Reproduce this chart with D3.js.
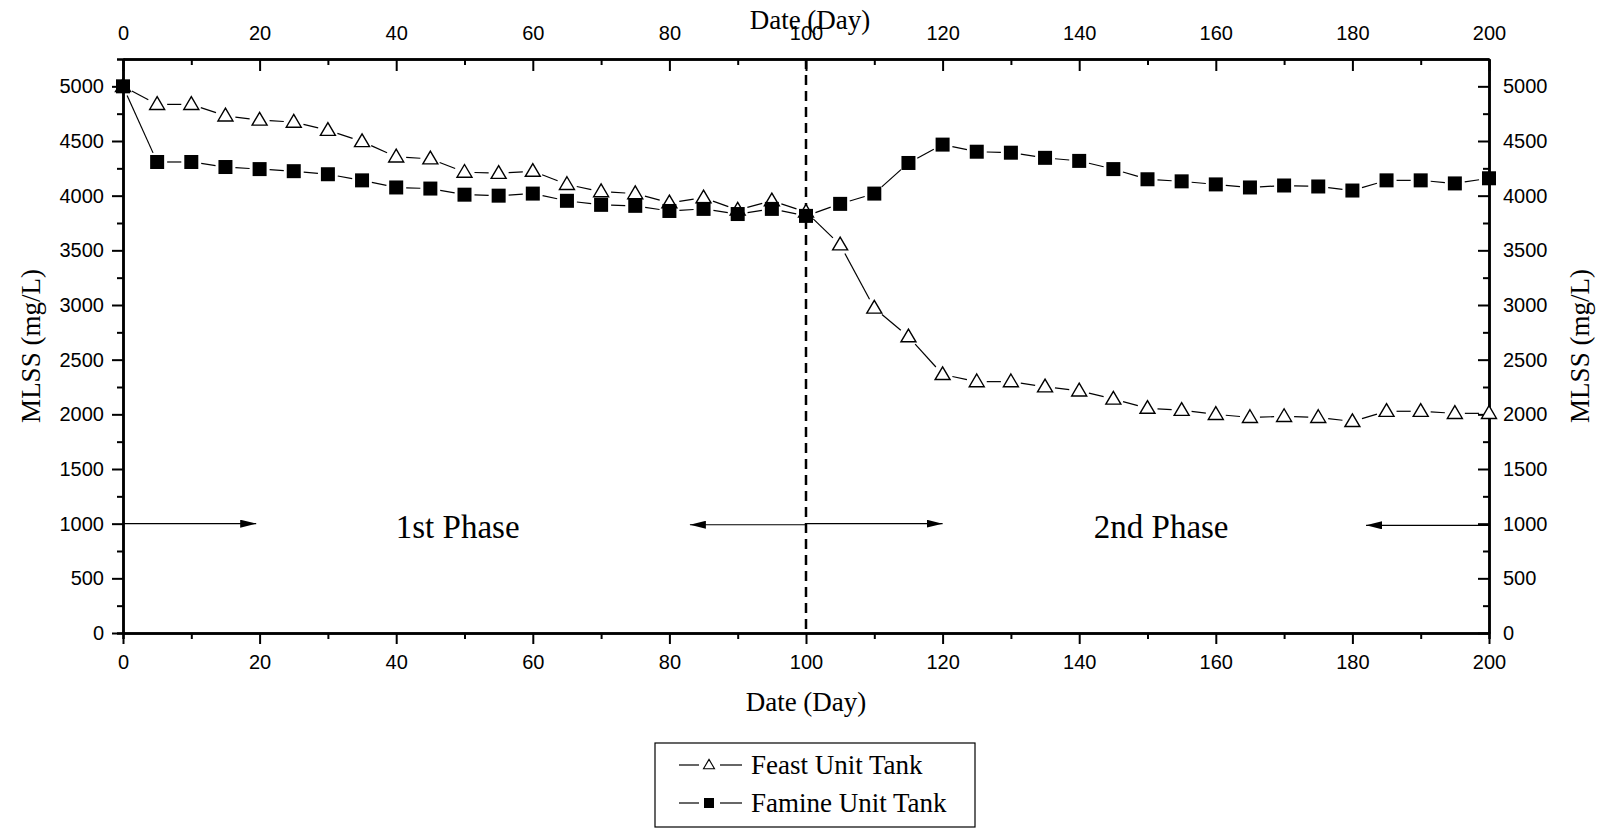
<!DOCTYPE html>
<html>
<head>
<meta charset="utf-8">
<script src="https://cdn.jsdelivr.net/npm/d3@7"></script>
<style>
  body { margin: 0; background: #fff; }
  .tick text { font-family: "Liberation Sans", Arial, sans-serif; font-size: 20px; fill: #000; }
  .axis path, .axis line { stroke: #000; }
</style>
</head>
<body>
<script>
// days sampled every 5
var days = [0,5,10,15,20,25,30,35,40,45,50,55,60,65,70,75,80,85,90,95,100,
            105,110,115,120,125,130,135,140,145,150,155,160,165,170,175,180,185,190,195,200];

// MLSS (mg/L)
var feast = [5000,4835,4835,4730,4692,4673,4598,4495,4355,4337,4215,4205,4224,4103,4037,4019,3935,3981,3869,3953,3851,
             3551,2972,2710,2365,2299,2299,2252,2215,2140,2056,2037,2000,1972,1981,1972,1935,2028,2028,2009,2009];
var famine = [5000,4308,4308,4262,4243,4224,4196,4140,4075,4065,4009,4000,4019,3953,3916,3907,3860,3879,3832,3879,3815,
              3925,4019,4299,4467,4402,4393,4346,4318,4243,4150,4131,4103,4075,4093,4084,4047,4140,4140,4112,4159];

var xMajor = [0,20,40,60,80,100,120,140,160,180,200];
var xMinor = [10,30,50,70,90,110,130,150,170,190];
var yMajor = [0,500,1000,1500,2000,2500,3000,3500,4000,4500,5000];
var yMinor = [250,750,1250,1750,2250,2750,3250,3750,4250,4750];

var seriesNames = ["Feast Unit Tank", "Famine Unit Tank"];

// phase annotations
var phaseLabels = ["1st Phase", "2nd Phase"];
var phaseLabelDay = [49, 152];
var phaseDivider = 100;
var arrowFrom = [0, 100, 100, 200];
var arrowTo = [19.5, 83, 120, 182];
var arrowLevel = [1000, 990, 1000, 985];

var W = 1604, H = 829;
var m = {left: 123, right: 115, top: 59, bottom: 196};

var svg = d3.select("body").append("svg")
            .attr("width", W)
            .attr("height", H);

var defs = svg.append("defs");
defs.append("marker")
    .attr("id", "head")
    .attr("viewBox", "0 0 16 8")
    .attr("refX", 16).attr("refY", 4)
    .attr("markerWidth", 16).attr("markerHeight", 8)
    .attr("markerUnits", "userSpaceOnUse")
    .attr("orient", "auto")
  .append("path")
    .attr("d", "M0,0L16,4L0,8Z")
    .attr("fill", "#000");

var x = d3.scaleLinear().domain([0, 200]).range([m.left, W - m.right]);
var y = d3.scaleLinear().domain([0, 5250]).range([H - m.bottom, m.top]);
var fmt = d3.format("d");

// ---- axes ----
var styleAxis = function(g, w){
  g.attr("class", "axis");
  g.select(".domain").attr("stroke-width", 2.5);
  g.selectAll(".tick line").attr("stroke-width", 2);
}

svg.append("g").attr("transform", "translate(0," + y(0) + ")")
   .call(d3.axisBottom(x).tickValues(xMajor).tickFormat(fmt).tickSizeInner(11).tickSizeOuter(0).tickPadding(11))
   .call(styleAxis);
svg.append("g").attr("transform", "translate(0," + y(0) + ")")
   .call(d3.axisBottom(x).tickValues(xMinor).tickSize(6).tickFormat(""))
   .call(styleAxis);

svg.append("g").attr("transform", "translate(0," + y(5250) + ")")
   .call(d3.axisTop(x).tickValues(xMajor).tickFormat(fmt).tickSizeInner(-12).tickSizeOuter(0).tickPadding(19))
   .call(styleAxis);
svg.append("g").attr("transform", "translate(0," + y(5250) + ")")
   .call(d3.axisTop(x).tickValues(xMinor).tickSizeInner(-6).tickSizeOuter(0).tickFormat(""))
   .call(styleAxis);

svg.append("g").attr("transform", "translate(" + x(0) + ",0)")
   .call(d3.axisLeft(y).tickValues(yMajor).tickFormat(fmt).tickSizeInner(11).tickSizeOuter(0).tickPadding(8))
   .call(styleAxis);
svg.append("g").attr("transform", "translate(" + x(0) + ",0)")
   .call(d3.axisLeft(y).tickValues(yMinor).tickSize(6).tickFormat(""))
   .call(styleAxis);

svg.append("g").attr("transform", "translate(" + x(200) + ",0)")
   .call(d3.axisRight(y).tickValues(yMajor).tickFormat(fmt).tickSizeInner(-11).tickSizeOuter(0).tickPadding(14))
   .call(styleAxis);
svg.append("g").attr("transform", "translate(" + x(200) + ",0)")
   .call(d3.axisRight(y).tickValues(yMinor).tickSizeInner(-6).tickSizeOuter(0).tickFormat(""))
   .call(styleAxis);

// axis titles (serif)
var serif = '"Liberation Serif", "Times New Roman", serif';
var place_text = function(txt, px, py, size, rot){
  var t = svg.append("text")
     .attr("x", px).attr("y", py)
     .attr("text-anchor", "middle")
     .attr("dominant-baseline", "central")
     .style("font-family", serif)
     .style("font-size", size + "px")
     .text(txt);
  if (rot) t.attr("transform", "rotate(" + rot + "," + px + "," + py + ")");
  return t;
}
place_text("Date (Day)", (x(0) + x(200)) / 2, 702, 27, 0);
place_text("Date (Day)", 810, 20, 27, 0);
place_text("MLSS (mg/L)", 31, y(2625), 27, -90);
place_text("MLSS (mg/L)", 1580, y(2625), 27, -90);

// divider between phases
svg.append("line")
   .attr("x1", x(phaseDivider)).attr("x2", x(phaseDivider))
   .attr("y1", y(5250)).attr("y2", y(0))
   .attr("stroke", "#000").attr("stroke-width", 2.5)
   .attr("stroke-dasharray", "10,6");

// arrows + phase labels
for (var i = 0; i < arrowFrom.length; i++){
  svg.append("line")
     .attr("x1", x(arrowFrom[i])).attr("y1", y(arrowLevel[i]))
     .attr("x2", x(arrowTo[i])).attr("y2", y(arrowLevel[i]))
     .attr("stroke", "#000").attr("stroke-width", 1.2)
     .attr("marker-end", "url(#head)");
}
for (var i = 0; i < phaseLabels.length; i++){
  place_text(phaseLabels[i], x(phaseLabelDay[i]), y(1000) + 3, 33, 0);
}

// ---- series ----
// Origin style: connecting lines stop short of each marker
var gap = 10;
var draw_gapped_line = function(vals){
  var g = svg.append("g");
  for (var i = 1; i < days.length; i++){
    var x0 = x(days[i-1]), y0 = y(vals[i-1]);
    var x1 = x(days[i]), y1 = y(vals[i]);
    var dx = x1 - x0, dy = y1 - y0;
    var len = Math.sqrt(dx*dx + dy*dy);
    if (len <= 2*gap) continue;
    var ux = dx/len, uy = dy/len;
    g.append("line")
     .attr("x1", x0 + ux*gap).attr("y1", y0 + uy*gap)
     .attr("x2", x1 - ux*gap).attr("y2", y1 - uy*gap)
     .attr("stroke", "#000").attr("stroke-width", 1.2);
  }
}

var tri = function(cx, cy, s){
  var h = s * 0.85;
  return "M" + cx + "," + (cy - h*0.6) + "L" + (cx + s/2) + "," + (cy + h*0.4) +
         "L" + (cx - s/2) + "," + (cy + h*0.4) + "Z";
}

draw_gapped_line(feast);
draw_gapped_line(famine);

svg.append("g").selectAll("path")
   .data(days).enter().append("path")
   .attr("d", function(d, i){ return tri(x(d), y(feast[i]), 15); })
   .attr("fill", "#fff").attr("stroke", "#000").attr("stroke-width", 1.4);

svg.append("g").selectAll("rect")
   .data(days).enter().append("rect")
   .attr("x", function(d){ return x(d) - 7; })
   .attr("y", function(d, i){ return y(famine[i]) - 7; })
   .attr("width", 14).attr("height", 14)
   .attr("fill", "#000");

// ---- legend ----
var lg = svg.append("g").attr("transform", "translate(655,743)");
lg.append("rect")
  .attr("width", 320).attr("height", 84)
  .attr("fill", "#fff").attr("stroke", "#000").attr("stroke-width", 1.2);

var rowY = [22, 60];
for (var i = 0; i < seriesNames.length; i++){
  lg.append("line").attr("x1", 24).attr("x2", 44).attr("y1", rowY[i]).attr("y2", rowY[i])
    .attr("stroke", "#000").attr("stroke-width", 1.2);
  lg.append("line").attr("x1", 65).attr("x2", 87).attr("y1", rowY[i]).attr("y2", rowY[i])
    .attr("stroke", "#000").attr("stroke-width", 1.2);
  if (i == 0){
    lg.append("path").attr("d", tri(54, rowY[i], 11))
      .attr("fill", "#fff").attr("stroke", "#000").attr("stroke-width", 1.1);
  } else {
    lg.append("rect").attr("x", 49).attr("y", rowY[i] - 5).attr("width", 10).attr("height", 10)
      .attr("fill", "#000");
  }
  lg.append("text")
    .attr("x", 96).attr("y", rowY[i])
    .attr("dominant-baseline", "central")
    .style("font-family", serif).style("font-size", "27px")
    .text(seriesNames[i]);
}
</script>
</body>
</html>
